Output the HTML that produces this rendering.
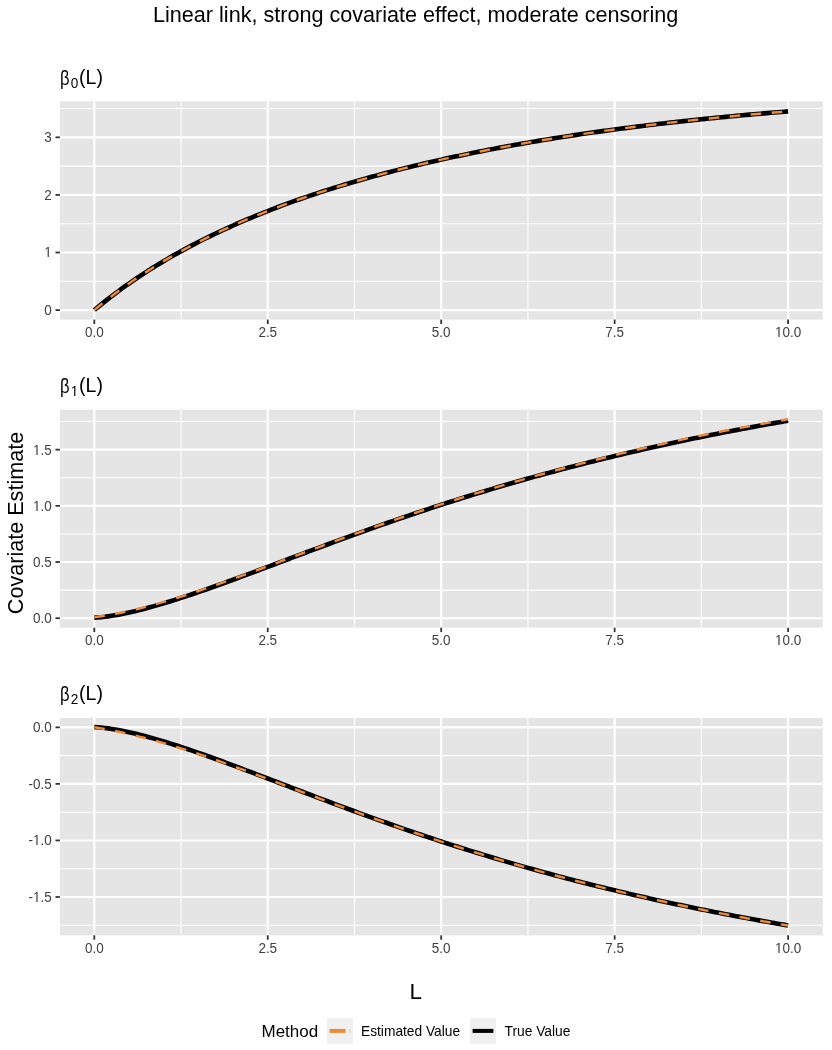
<!DOCTYPE html>
<html><head><meta charset="utf-8"><title>Linear link, strong covariate effect, moderate censoring</title>
<style>html,body{margin:0;padding:0;background:#fff;}svg{display:block;filter:blur(0.35px);}</style></head>
<body>
<svg width="832" height="1050" viewBox="0 0 832 1050" font-family="'Liberation Sans', Arial, Helvetica, sans-serif">
<rect width="832" height="1050" fill="#ffffff"/>
<text x="415.7" y="22.3" font-size="21.6" text-anchor="middle" fill="#000">Linear link, strong covariate effect, moderate censoring</text>
<text transform="translate(60.05,84.90) scale(0.82,1)" font-size="20.3" fill="#000">β</text>
<text transform="translate(70.7,88.00) scale(0.9,1)" font-size="15.1" fill="#000">0</text>
<text x="79.1" y="83.50" font-size="19.5" fill="#000">(L)</text>
<rect x="59.9" y="101.3" width="762.90" height="218.30" fill="#E5E5E5"/>
<line x1="59.9" x2="822.8" y1="281.31" y2="281.31" stroke="#fff" stroke-width="1.07"/>
<line x1="59.9" x2="822.8" y1="223.72" y2="223.72" stroke="#fff" stroke-width="1.07"/>
<line x1="59.9" x2="822.8" y1="166.12" y2="166.12" stroke="#fff" stroke-width="1.07"/>
<line x1="59.9" x2="822.8" y1="108.54" y2="108.54" stroke="#fff" stroke-width="1.07"/>
<line x1="181.03" x2="181.03" y1="101.3" y2="319.6" stroke="#fff" stroke-width="1.07"/>
<line x1="354.48" x2="354.48" y1="101.3" y2="319.6" stroke="#fff" stroke-width="1.07"/>
<line x1="527.92" x2="527.92" y1="101.3" y2="319.6" stroke="#fff" stroke-width="1.07"/>
<line x1="701.38" x2="701.38" y1="101.3" y2="319.6" stroke="#fff" stroke-width="1.07"/>
<line x1="59.9" x2="822.8" y1="310.10" y2="310.10" stroke="#fff" stroke-width="2.13"/>
<line x1="59.9" x2="822.8" y1="252.51" y2="252.51" stroke="#fff" stroke-width="2.13"/>
<line x1="59.9" x2="822.8" y1="194.92" y2="194.92" stroke="#fff" stroke-width="2.13"/>
<line x1="59.9" x2="822.8" y1="137.33" y2="137.33" stroke="#fff" stroke-width="2.13"/>
<line x1="94.30" x2="94.30" y1="101.3" y2="319.6" stroke="#fff" stroke-width="2.13"/>
<line x1="267.75" x2="267.75" y1="101.3" y2="319.6" stroke="#fff" stroke-width="2.13"/>
<line x1="441.20" x2="441.20" y1="101.3" y2="319.6" stroke="#fff" stroke-width="2.13"/>
<line x1="614.65" x2="614.65" y1="101.3" y2="319.6" stroke="#fff" stroke-width="2.13"/>
<line x1="788.10" x2="788.10" y1="101.3" y2="319.6" stroke="#fff" stroke-width="2.13"/>
<path d="M94.30,310.10 L97.77,307.21 L101.24,304.38 L104.71,301.60 L108.18,298.87 L111.64,296.20 L115.11,293.57 L118.58,290.99 L122.05,288.45 L125.52,285.96 L128.99,283.51 L132.46,281.11 L135.93,278.74 L139.40,276.42 L142.87,274.13 L146.34,271.88 L149.80,269.67 L153.27,267.49 L156.74,265.35 L160.21,263.24 L163.68,261.16 L167.15,259.12 L170.62,257.11 L174.09,255.12 L177.56,253.17 L181.03,251.25 L184.49,249.36 L187.96,247.49 L191.43,245.65 L194.90,243.84 L198.37,242.05 L201.84,240.29 L205.31,238.55 L208.78,236.84 L212.25,235.15 L215.72,233.49 L219.18,231.85 L222.65,230.23 L226.12,228.63 L229.59,227.05 L233.06,225.50 L236.53,223.96 L240.00,222.45 L243.47,220.96 L246.94,219.48 L250.41,218.03 L253.87,216.59 L257.34,215.17 L260.81,213.77 L264.28,212.38 L267.75,211.02 L271.22,209.67 L274.69,208.34 L278.16,207.02 L281.63,205.72 L285.10,204.44 L288.56,203.17 L292.03,201.92 L295.50,200.68 L298.97,199.46 L302.44,198.25 L305.91,197.06 L309.38,195.88 L312.85,194.71 L316.32,193.56 L319.79,192.42 L323.25,191.29 L326.72,190.18 L330.19,189.08 L333.66,187.99 L337.13,186.92 L340.60,185.86 L344.07,184.81 L347.54,183.77 L351.01,182.74 L354.48,181.72 L357.94,180.72 L361.41,179.73 L364.88,178.75 L368.35,177.77 L371.82,176.81 L375.29,175.86 L378.76,174.92 L382.23,173.99 L385.70,173.08 L389.17,172.17 L392.63,171.27 L396.10,170.38 L399.57,169.50 L403.04,168.63 L406.51,167.76 L409.98,166.91 L413.45,166.07 L416.92,165.23 L420.39,164.41 L423.86,163.59 L427.32,162.78 L430.79,161.98 L434.26,161.19 L437.73,160.41 L441.20,159.63 L444.67,158.87 L448.14,158.11 L451.61,157.36 L455.08,156.62 L458.55,155.88 L462.01,155.15 L465.48,154.43 L468.95,153.72 L472.42,153.01 L475.89,152.31 L479.36,151.62 L482.83,150.94 L486.30,150.26 L489.77,149.59 L493.24,148.93 L496.70,148.27 L500.17,147.62 L503.64,146.98 L507.11,146.34 L510.58,145.71 L514.05,145.09 L517.52,144.47 L520.99,143.86 L524.46,143.25 L527.92,142.65 L531.39,142.06 L534.86,141.47 L538.33,140.89 L541.80,140.31 L545.27,139.74 L548.74,139.18 L552.21,138.62 L555.68,138.07 L559.15,137.52 L562.62,136.98 L566.08,136.44 L569.55,135.91 L573.02,135.39 L576.49,134.87 L579.96,134.35 L583.43,133.84 L586.90,133.34 L590.37,132.84 L593.84,132.34 L597.30,131.85 L600.77,131.37 L604.24,130.89 L607.71,130.41 L611.18,129.94 L614.65,129.48 L618.12,129.02 L621.59,128.56 L625.06,128.11 L628.53,127.66 L632.00,127.22 L635.46,126.78 L638.93,126.35 L642.40,125.92 L645.87,125.49 L649.34,125.07 L652.81,124.66 L656.28,124.25 L659.75,123.84 L663.22,123.43 L666.68,123.03 L670.15,122.64 L673.62,122.25 L677.09,121.86 L680.56,121.48 L684.03,121.10 L687.50,120.72 L690.97,120.35 L694.44,119.98 L697.91,119.62 L701.38,119.26 L704.84,118.90 L708.31,118.55 L711.78,118.20 L715.25,117.85 L718.72,117.51 L722.19,117.17 L725.66,116.84 L729.13,116.51 L732.60,116.18 L736.07,115.86 L739.53,115.54 L743.00,115.22 L746.47,114.90 L749.94,114.59 L753.41,114.29 L756.88,113.98 L760.35,113.68 L763.82,113.38 L767.29,113.09 L770.76,112.80 L774.22,112.51 L777.69,112.23 L781.16,111.95 L784.63,111.67 L788.10,111.39" fill="none" stroke="#000" stroke-width="4.6" stroke-linejoin="round"/>
<path d="M94.30,310.10 L97.77,307.21 L101.24,304.38 L104.71,301.60 L108.18,298.87 L111.64,296.20 L115.11,293.57 L118.58,290.99 L122.05,288.45 L125.52,285.96 L128.99,283.51 L132.46,281.11 L135.93,278.74 L139.40,276.42 L142.87,274.13 L146.34,271.88 L149.80,269.67 L153.27,267.49 L156.74,265.35 L160.21,263.24 L163.68,261.16 L167.15,259.12 L170.62,257.11 L174.09,255.12 L177.56,253.17 L181.03,251.25 L184.49,249.36 L187.96,247.49 L191.43,245.65 L194.90,243.84 L198.37,242.05 L201.84,240.29 L205.31,238.55 L208.78,236.84 L212.25,235.15 L215.72,233.49 L219.18,231.85 L222.65,230.23 L226.12,228.63 L229.59,227.05 L233.06,225.50 L236.53,223.96 L240.00,222.45 L243.47,220.96 L246.94,219.48 L250.41,218.03 L253.87,216.59 L257.34,215.17 L260.81,213.77 L264.28,212.38 L267.75,211.02 L271.22,209.67 L274.69,208.34 L278.16,207.02 L281.63,205.72 L285.10,204.44 L288.56,203.17 L292.03,201.92 L295.50,200.68 L298.97,199.46 L302.44,198.25 L305.91,197.06 L309.38,195.88 L312.85,194.71 L316.32,193.56 L319.79,192.42 L323.25,191.29 L326.72,190.18 L330.19,189.08 L333.66,187.99 L337.13,186.92 L340.60,185.86 L344.07,184.81 L347.54,183.77 L351.01,182.74 L354.48,181.72 L357.94,180.72 L361.41,179.73 L364.88,178.75 L368.35,177.77 L371.82,176.81 L375.29,175.86 L378.76,174.92 L382.23,173.99 L385.70,173.08 L389.17,172.17 L392.63,171.27 L396.10,170.38 L399.57,169.50 L403.04,168.63 L406.51,167.76 L409.98,166.91 L413.45,166.07 L416.92,165.23 L420.39,164.41 L423.86,163.59 L427.32,162.78 L430.79,161.98 L434.26,161.19 L437.73,160.41 L441.20,159.63 L444.67,158.87 L448.14,158.11 L451.61,157.36 L455.08,156.62 L458.55,155.88 L462.01,155.15 L465.48,154.43 L468.95,153.72 L472.42,153.01 L475.89,152.31 L479.36,151.62 L482.83,150.94 L486.30,150.26 L489.77,149.59 L493.24,148.93 L496.70,148.27 L500.17,147.62 L503.64,146.98 L507.11,146.34 L510.58,145.71 L514.05,145.09 L517.52,144.47 L520.99,143.86 L524.46,143.25 L527.92,142.65 L531.39,142.06 L534.86,141.47 L538.33,140.89 L541.80,140.31 L545.27,139.74 L548.74,139.18 L552.21,138.62 L555.68,138.07 L559.15,137.52 L562.62,136.98 L566.08,136.44 L569.55,135.91 L573.02,135.39 L576.49,134.87 L579.96,134.35 L583.43,133.84 L586.90,133.34 L590.37,132.84 L593.84,132.34 L597.30,131.85 L600.77,131.37 L604.24,130.89 L607.71,130.41 L611.18,129.94 L614.65,129.48 L618.12,129.02 L621.59,128.56 L625.06,128.11 L628.53,127.66 L632.00,127.22 L635.46,126.78 L638.93,126.35 L642.40,125.92 L645.87,125.49 L649.34,125.07 L652.81,124.66 L656.28,124.25 L659.75,123.84 L663.22,123.43 L666.68,123.03 L670.15,122.64 L673.62,122.25 L677.09,121.86 L680.56,121.48 L684.03,121.10 L687.50,120.72 L690.97,120.35 L694.44,119.98 L697.91,119.62 L701.38,119.26 L704.84,118.90 L708.31,118.55 L711.78,118.20 L715.25,117.85 L718.72,117.51 L722.19,117.17 L725.66,116.84 L729.13,116.51 L732.60,116.18 L736.07,115.86 L739.53,115.54 L743.00,115.22 L746.47,114.90 L749.94,114.59 L753.41,114.29 L756.88,113.98 L760.35,113.68 L763.82,113.38 L767.29,113.09 L770.76,112.80 L774.22,112.51 L777.69,112.23 L781.16,111.95 L784.63,111.67 L788.10,111.39" fill="none" stroke="#EE8B3A" stroke-width="2.45" stroke-dasharray="10.6 10.45" stroke-linejoin="round"/>
<line x1="55.50" x2="59.9" y1="310.10" y2="310.10" stroke="#333333" stroke-width="1.8"/>
<text transform="translate(51.8,314.95) scale(0.95,1)" font-size="14.2" text-anchor="end" fill="#404040">0</text>
<line x1="55.50" x2="59.9" y1="252.51" y2="252.51" stroke="#333333" stroke-width="1.8"/>
<text transform="translate(51.8,257.36) scale(0.95,1)" font-size="14.2" text-anchor="end" fill="#404040">1</text>
<line x1="55.50" x2="59.9" y1="194.92" y2="194.92" stroke="#333333" stroke-width="1.8"/>
<text transform="translate(51.8,199.77) scale(0.95,1)" font-size="14.2" text-anchor="end" fill="#404040">2</text>
<line x1="55.50" x2="59.9" y1="137.33" y2="137.33" stroke="#333333" stroke-width="1.8"/>
<text transform="translate(51.8,142.18) scale(0.95,1)" font-size="14.2" text-anchor="end" fill="#404040">3</text>
<line x1="94.30" x2="94.30" y1="319.6" y2="324.00" stroke="#333333" stroke-width="1.8"/>
<text transform="translate(94.30,337.30) scale(0.95,1)" font-size="14.2" text-anchor="middle" fill="#404040">0.0</text>
<line x1="267.75" x2="267.75" y1="319.6" y2="324.00" stroke="#333333" stroke-width="1.8"/>
<text transform="translate(267.75,337.30) scale(0.95,1)" font-size="14.2" text-anchor="middle" fill="#404040">2.5</text>
<line x1="441.20" x2="441.20" y1="319.6" y2="324.00" stroke="#333333" stroke-width="1.8"/>
<text transform="translate(441.20,337.30) scale(0.95,1)" font-size="14.2" text-anchor="middle" fill="#404040">5.0</text>
<line x1="614.65" x2="614.65" y1="319.6" y2="324.00" stroke="#333333" stroke-width="1.8"/>
<text transform="translate(614.65,337.30) scale(0.95,1)" font-size="14.2" text-anchor="middle" fill="#404040">7.5</text>
<line x1="788.10" x2="788.10" y1="319.6" y2="324.00" stroke="#333333" stroke-width="1.8"/>
<text transform="translate(788.10,337.30) scale(0.95,1)" font-size="14.2" text-anchor="middle" fill="#404040">10.0</text>
<text transform="translate(60.05,393.10) scale(0.82,1)" font-size="20.3" fill="#000">β</text>
<text transform="translate(70.7,396.20) scale(0.9,1)" font-size="15.1" fill="#000">1</text>
<text x="79.1" y="391.70" font-size="19.5" fill="#000">(L)</text>
<rect x="59.9" y="409.7" width="762.90" height="218.00" fill="#E5E5E5"/>
<line x1="59.9" x2="822.8" y1="590.11" y2="590.11" stroke="#fff" stroke-width="1.07"/>
<line x1="59.9" x2="822.8" y1="533.93" y2="533.93" stroke="#fff" stroke-width="1.07"/>
<line x1="59.9" x2="822.8" y1="477.75" y2="477.75" stroke="#fff" stroke-width="1.07"/>
<line x1="59.9" x2="822.8" y1="421.57" y2="421.57" stroke="#fff" stroke-width="1.07"/>
<line x1="181.03" x2="181.03" y1="409.7" y2="627.7" stroke="#fff" stroke-width="1.07"/>
<line x1="354.48" x2="354.48" y1="409.7" y2="627.7" stroke="#fff" stroke-width="1.07"/>
<line x1="527.92" x2="527.92" y1="409.7" y2="627.7" stroke="#fff" stroke-width="1.07"/>
<line x1="701.38" x2="701.38" y1="409.7" y2="627.7" stroke="#fff" stroke-width="1.07"/>
<line x1="59.9" x2="822.8" y1="618.20" y2="618.20" stroke="#fff" stroke-width="2.13"/>
<line x1="59.9" x2="822.8" y1="562.02" y2="562.02" stroke="#fff" stroke-width="2.13"/>
<line x1="59.9" x2="822.8" y1="505.84" y2="505.84" stroke="#fff" stroke-width="2.13"/>
<line x1="59.9" x2="822.8" y1="449.66" y2="449.66" stroke="#fff" stroke-width="2.13"/>
<line x1="94.30" x2="94.30" y1="409.7" y2="627.7" stroke="#fff" stroke-width="2.13"/>
<line x1="267.75" x2="267.75" y1="409.7" y2="627.7" stroke="#fff" stroke-width="2.13"/>
<line x1="441.20" x2="441.20" y1="409.7" y2="627.7" stroke="#fff" stroke-width="2.13"/>
<line x1="614.65" x2="614.65" y1="409.7" y2="627.7" stroke="#fff" stroke-width="2.13"/>
<line x1="788.10" x2="788.10" y1="409.7" y2="627.7" stroke="#fff" stroke-width="2.13"/>
<path d="M94.30,617.67 L97.77,617.51 L101.24,617.21 L104.71,616.83 L108.18,616.37 L111.64,615.85 L115.11,615.27 L118.58,614.65 L122.05,613.98 L125.52,613.26 L128.99,612.51 L132.46,611.72 L135.93,610.90 L139.40,610.05 L142.87,609.17 L146.34,608.26 L149.80,607.32 L153.27,606.36 L156.74,605.37 L160.21,604.37 L163.68,603.34 L167.15,602.29 L170.62,601.22 L174.09,600.13 L177.56,599.03 L181.03,597.91 L184.49,596.78 L187.96,595.63 L191.43,594.47 L194.90,593.30 L198.37,592.11 L201.84,590.92 L205.31,589.71 L208.78,588.49 L212.25,587.27 L215.72,586.03 L219.18,584.79 L222.65,583.54 L226.12,582.28 L229.59,581.02 L233.06,579.75 L236.53,578.48 L240.00,577.20 L243.47,575.91 L246.94,574.63 L250.41,573.34 L253.87,572.04 L257.34,570.75 L260.81,569.45 L264.28,568.15 L267.75,566.85 L271.22,565.54 L274.69,564.24 L278.16,562.93 L281.63,561.63 L285.10,560.32 L288.56,559.02 L292.03,557.71 L295.50,556.41 L298.97,555.11 L302.44,553.81 L305.91,552.51 L309.38,551.21 L312.85,549.91 L316.32,548.62 L319.79,547.33 L323.25,546.04 L326.72,544.76 L330.19,543.48 L333.66,542.20 L337.13,540.92 L340.60,539.65 L344.07,538.38 L347.54,537.11 L351.01,535.85 L354.48,534.60 L357.94,533.34 L361.41,532.10 L364.88,530.85 L368.35,529.61 L371.82,528.38 L375.29,527.15 L378.76,525.92 L382.23,524.70 L385.70,523.49 L389.17,522.28 L392.63,521.07 L396.10,519.87 L399.57,518.68 L403.04,517.49 L406.51,516.31 L409.98,515.13 L413.45,513.96 L416.92,512.79 L420.39,511.63 L423.86,510.47 L427.32,509.32 L430.79,508.18 L434.26,507.04 L437.73,505.91 L441.20,504.78 L444.67,503.66 L448.14,502.55 L451.61,501.44 L455.08,500.34 L458.55,499.24 L462.01,498.15 L465.48,497.06 L468.95,495.98 L472.42,494.91 L475.89,493.85 L479.36,492.79 L482.83,491.73 L486.30,490.68 L489.77,489.64 L493.24,488.60 L496.70,487.57 L500.17,486.55 L503.64,485.53 L507.11,484.52 L510.58,483.51 L514.05,482.51 L517.52,481.52 L520.99,480.53 L524.46,479.55 L527.92,478.58 L531.39,477.61 L534.86,476.64 L538.33,475.68 L541.80,474.73 L545.27,473.79 L548.74,472.85 L552.21,471.91 L555.68,470.98 L559.15,470.06 L562.62,469.14 L566.08,468.23 L569.55,467.33 L573.02,466.43 L576.49,465.53 L579.96,464.65 L583.43,463.76 L586.90,462.89 L590.37,462.02 L593.84,461.15 L597.30,460.29 L600.77,459.44 L604.24,458.59 L607.71,457.74 L611.18,456.90 L614.65,456.07 L618.12,455.24 L621.59,454.42 L625.06,453.61 L628.53,452.80 L632.00,451.99 L635.46,451.19 L638.93,450.39 L642.40,449.60 L645.87,448.82 L649.34,448.04 L652.81,447.26 L656.28,446.49 L659.75,445.73 L663.22,444.97 L666.68,444.21 L670.15,443.46 L673.62,442.72 L677.09,441.98 L680.56,441.24 L684.03,440.51 L687.50,439.79 L690.97,439.07 L694.44,438.35 L697.91,437.64 L701.38,436.93 L704.84,436.23 L708.31,435.53 L711.78,434.84 L715.25,434.15 L718.72,433.47 L722.19,432.79 L725.66,432.11 L729.13,431.44 L732.60,430.78 L736.07,430.12 L739.53,429.46 L743.00,428.81 L746.47,428.16 L749.94,427.51 L753.41,426.87 L756.88,426.24 L760.35,425.60 L763.82,424.98 L767.29,424.35 L770.76,423.73 L774.22,423.12 L777.69,422.51 L781.16,421.90 L784.63,421.29 L788.10,420.69" fill="none" stroke="#000" stroke-width="4.6" stroke-linejoin="round"/>
<path d="M94.30,617.22 L97.77,616.82 L101.24,616.33 L104.71,615.78 L108.18,615.18 L111.64,614.55 L115.11,613.89 L118.58,613.20 L122.05,612.47 L125.52,611.73 L128.99,610.95 L132.46,610.15 L135.93,609.32 L139.40,608.48 L142.87,607.60 L146.34,606.71 L149.80,605.79 L153.27,604.85 L156.74,603.90 L160.21,602.92 L163.68,601.92 L167.15,600.90 L170.62,599.87 L174.09,598.82 L177.56,597.75 L181.03,596.67 L184.49,595.57 L187.96,594.45 L191.43,593.33 L194.90,592.19 L198.37,591.03 L201.84,589.87 L205.31,588.69 L208.78,587.50 L212.25,586.30 L215.72,585.10 L219.18,583.88 L222.65,582.65 L226.12,581.42 L229.59,580.18 L233.06,578.93 L236.53,577.68 L240.00,576.42 L243.47,575.16 L246.94,573.89 L250.41,572.61 L253.87,571.34 L257.34,570.06 L260.81,568.77 L264.28,567.49 L267.75,566.20 L271.22,564.90 L274.69,563.61 L278.16,562.32 L281.63,561.02 L285.10,559.73 L288.56,558.43 L292.03,557.14 L295.50,555.84 L298.97,554.55 L302.44,553.25 L305.91,551.96 L309.38,550.67 L312.85,549.38 L316.32,548.09 L319.79,546.81 L323.25,545.52 L326.72,544.24 L330.19,542.96 L333.66,541.69 L337.13,540.42 L340.60,539.15 L344.07,537.88 L347.54,536.62 L351.01,535.36 L354.48,534.11 L357.94,532.86 L361.41,531.61 L364.88,530.37 L368.35,529.13 L371.82,527.90 L375.29,526.67 L378.76,525.45 L382.23,524.23 L385.70,523.02 L389.17,521.81 L392.63,520.60 L396.10,519.41 L399.57,518.21 L403.04,517.02 L406.51,515.84 L409.98,514.67 L413.45,513.49 L416.92,512.33 L420.39,511.17 L423.86,510.01 L427.32,508.86 L430.79,507.72 L434.26,506.58 L437.73,505.45 L441.20,504.32 L444.67,503.20 L448.14,502.09 L451.61,500.98 L455.08,499.88 L458.55,498.78 L462.01,497.69 L465.48,496.61 L468.95,495.53 L472.42,494.46 L475.89,493.39 L479.36,492.33 L482.83,491.28 L486.30,490.23 L489.77,489.19 L493.24,488.15 L496.70,487.12 L500.17,486.10 L503.64,485.08 L507.11,484.07 L510.58,483.06 L514.05,482.06 L517.52,481.07 L520.99,480.07 L524.46,479.09 L527.92,478.10 L531.39,477.13 L534.86,476.15 L538.33,475.18 L541.80,474.22 L545.27,473.26 L548.74,472.30 L552.21,471.35 L555.68,470.41 L559.15,469.47 L562.62,468.53 L566.08,467.60 L569.55,466.68 L573.02,465.76 L576.49,464.84 L579.96,463.93 L583.43,463.03 L586.90,462.13 L590.37,461.23 L593.84,460.34 L597.30,459.46 L600.77,458.58 L604.24,457.70 L607.71,456.83 L611.18,455.97 L614.65,455.11 L618.12,454.26 L621.59,453.41 L625.06,452.57 L628.53,451.74 L632.00,450.90 L635.46,450.08 L638.93,449.26 L642.40,448.45 L645.87,447.64 L649.34,446.83 L652.81,446.04 L656.28,445.25 L659.75,444.46 L663.22,443.68 L666.68,442.91 L670.15,442.14 L673.62,441.38 L677.09,440.62 L680.56,439.87 L684.03,439.12 L687.50,438.38 L690.97,437.65 L694.44,436.92 L697.91,436.20 L701.38,435.49 L704.84,434.78 L708.31,434.07 L711.78,433.38 L715.25,432.69 L718.72,432.00 L722.19,431.32 L725.66,430.65 L729.13,429.98 L732.60,429.31 L736.07,428.65 L739.53,427.99 L743.00,427.34 L746.47,426.69 L749.94,426.05 L753.41,425.41 L756.88,424.77 L760.35,424.14 L763.82,423.51 L767.29,422.89 L770.76,422.27 L774.22,421.65 L777.69,421.04 L781.16,420.43 L784.63,419.83 L788.10,419.23" fill="none" stroke="#EE8B3A" stroke-width="2.45" stroke-dasharray="10.6 10.45" stroke-linejoin="round"/>
<line x1="55.50" x2="59.9" y1="618.20" y2="618.20" stroke="#333333" stroke-width="1.8"/>
<text transform="translate(51.8,623.05) scale(0.95,1)" font-size="14.2" text-anchor="end" fill="#404040">0.0</text>
<line x1="55.50" x2="59.9" y1="562.02" y2="562.02" stroke="#333333" stroke-width="1.8"/>
<text transform="translate(51.8,566.87) scale(0.95,1)" font-size="14.2" text-anchor="end" fill="#404040">0.5</text>
<line x1="55.50" x2="59.9" y1="505.84" y2="505.84" stroke="#333333" stroke-width="1.8"/>
<text transform="translate(51.8,510.69) scale(0.95,1)" font-size="14.2" text-anchor="end" fill="#404040">1.0</text>
<line x1="55.50" x2="59.9" y1="449.66" y2="449.66" stroke="#333333" stroke-width="1.8"/>
<text transform="translate(51.8,454.51) scale(0.95,1)" font-size="14.2" text-anchor="end" fill="#404040">1.5</text>
<line x1="94.30" x2="94.30" y1="627.7" y2="632.10" stroke="#333333" stroke-width="1.8"/>
<text transform="translate(94.30,645.40) scale(0.95,1)" font-size="14.2" text-anchor="middle" fill="#404040">0.0</text>
<line x1="267.75" x2="267.75" y1="627.7" y2="632.10" stroke="#333333" stroke-width="1.8"/>
<text transform="translate(267.75,645.40) scale(0.95,1)" font-size="14.2" text-anchor="middle" fill="#404040">2.5</text>
<line x1="441.20" x2="441.20" y1="627.7" y2="632.10" stroke="#333333" stroke-width="1.8"/>
<text transform="translate(441.20,645.40) scale(0.95,1)" font-size="14.2" text-anchor="middle" fill="#404040">5.0</text>
<line x1="614.65" x2="614.65" y1="627.7" y2="632.10" stroke="#333333" stroke-width="1.8"/>
<text transform="translate(614.65,645.40) scale(0.95,1)" font-size="14.2" text-anchor="middle" fill="#404040">7.5</text>
<line x1="788.10" x2="788.10" y1="627.7" y2="632.10" stroke="#333333" stroke-width="1.8"/>
<text transform="translate(788.10,645.40) scale(0.95,1)" font-size="14.2" text-anchor="middle" fill="#404040">10.0</text>
<text transform="translate(60.05,701.30) scale(0.82,1)" font-size="20.3" fill="#000">β</text>
<text transform="translate(70.7,704.40) scale(0.9,1)" font-size="15.1" fill="#000">2</text>
<text x="79.1" y="699.90" font-size="19.5" fill="#000">(L)</text>
<rect x="59.9" y="718.0" width="762.90" height="217.30" fill="#E5E5E5"/>
<line x1="59.9" x2="822.8" y1="755.62" y2="755.62" stroke="#fff" stroke-width="1.07"/>
<line x1="59.9" x2="822.8" y1="812.16" y2="812.16" stroke="#fff" stroke-width="1.07"/>
<line x1="59.9" x2="822.8" y1="868.72" y2="868.72" stroke="#fff" stroke-width="1.07"/>
<line x1="59.9" x2="822.8" y1="925.26" y2="925.26" stroke="#fff" stroke-width="1.07"/>
<line x1="181.03" x2="181.03" y1="718.0" y2="935.3" stroke="#fff" stroke-width="1.07"/>
<line x1="354.48" x2="354.48" y1="718.0" y2="935.3" stroke="#fff" stroke-width="1.07"/>
<line x1="527.92" x2="527.92" y1="718.0" y2="935.3" stroke="#fff" stroke-width="1.07"/>
<line x1="701.38" x2="701.38" y1="718.0" y2="935.3" stroke="#fff" stroke-width="1.07"/>
<line x1="59.9" x2="822.8" y1="727.34" y2="727.34" stroke="#fff" stroke-width="2.13"/>
<line x1="59.9" x2="822.8" y1="783.89" y2="783.89" stroke="#fff" stroke-width="2.13"/>
<line x1="59.9" x2="822.8" y1="840.44" y2="840.44" stroke="#fff" stroke-width="2.13"/>
<line x1="59.9" x2="822.8" y1="896.99" y2="896.99" stroke="#fff" stroke-width="2.13"/>
<line x1="94.30" x2="94.30" y1="718.0" y2="935.3" stroke="#fff" stroke-width="2.13"/>
<line x1="267.75" x2="267.75" y1="718.0" y2="935.3" stroke="#fff" stroke-width="2.13"/>
<line x1="441.20" x2="441.20" y1="718.0" y2="935.3" stroke="#fff" stroke-width="2.13"/>
<line x1="614.65" x2="614.65" y1="718.0" y2="935.3" stroke="#fff" stroke-width="2.13"/>
<line x1="788.10" x2="788.10" y1="718.0" y2="935.3" stroke="#fff" stroke-width="2.13"/>
<path d="M94.30,727.12 L97.77,727.28 L101.24,727.56 L104.71,727.94 L108.18,728.39 L111.64,728.91 L115.11,729.48 L118.58,730.10 L122.05,730.76 L125.52,731.47 L128.99,732.22 L132.46,733.01 L135.93,733.83 L139.40,734.69 L142.87,735.58 L146.34,736.49 L149.80,737.43 L153.27,738.40 L156.74,739.40 L160.21,740.41 L163.68,741.45 L167.15,742.51 L170.62,743.59 L174.09,744.69 L177.56,745.80 L181.03,746.94 L184.49,748.08 L187.96,749.25 L191.43,750.42 L194.90,751.62 L198.37,752.82 L201.84,754.03 L205.31,755.26 L208.78,756.49 L212.25,757.74 L215.72,758.99 L219.18,760.25 L222.65,761.52 L226.12,762.80 L229.59,764.09 L233.06,765.38 L236.53,766.67 L240.00,767.97 L243.47,769.28 L246.94,770.59 L250.41,771.90 L253.87,773.21 L257.34,774.53 L260.81,775.85 L264.28,777.18 L267.75,778.50 L271.22,779.83 L274.69,781.15 L278.16,782.48 L281.63,783.81 L285.10,785.14 L288.56,786.46 L292.03,787.79 L295.50,789.11 L298.97,790.44 L302.44,791.76 L305.91,793.08 L309.38,794.40 L312.85,795.72 L316.32,797.03 L319.79,798.34 L323.25,799.65 L326.72,800.96 L330.19,802.26 L333.66,803.56 L337.13,804.86 L340.60,806.15 L344.07,807.44 L347.54,808.72 L351.01,810.00 L354.48,811.28 L357.94,812.55 L361.41,813.81 L364.88,815.08 L368.35,816.33 L371.82,817.58 L375.29,818.83 L378.76,820.07 L382.23,821.31 L385.70,822.54 L389.17,823.77 L392.63,824.99 L396.10,826.20 L399.57,827.41 L403.04,828.61 L406.51,829.81 L409.98,831.00 L413.45,832.19 L416.92,833.37 L420.39,834.54 L423.86,835.71 L427.32,836.87 L430.79,838.03 L434.26,839.18 L437.73,840.32 L441.20,841.46 L444.67,842.59 L448.14,843.72 L451.61,844.83 L455.08,845.95 L458.55,847.05 L462.01,848.15 L465.48,849.25 L468.95,850.33 L472.42,851.41 L475.89,852.49 L479.36,853.56 L482.83,854.62 L486.30,855.67 L489.77,856.72 L493.24,857.76 L496.70,858.80 L500.17,859.83 L503.64,860.85 L507.11,861.87 L510.58,862.88 L514.05,863.89 L517.52,864.88 L520.99,865.88 L524.46,866.86 L527.92,867.84 L531.39,868.81 L534.86,869.78 L538.33,870.74 L541.80,871.70 L545.27,872.65 L548.74,873.59 L552.21,874.52 L555.68,875.45 L559.15,876.38 L562.62,877.30 L566.08,878.21 L569.55,879.11 L573.02,880.01 L576.49,880.91 L579.96,881.80 L583.43,882.68 L586.90,883.56 L590.37,884.43 L593.84,885.29 L597.30,886.15 L600.77,887.00 L604.24,887.85 L607.71,888.69 L611.18,889.53 L614.65,890.36 L618.12,891.19 L621.59,892.00 L625.06,892.82 L628.53,893.63 L632.00,894.43 L635.46,895.23 L638.93,896.02 L642.40,896.81 L645.87,897.59 L649.34,898.37 L652.81,899.14 L656.28,899.90 L659.75,900.66 L663.22,901.42 L666.68,902.17 L670.15,902.91 L673.62,903.65 L677.09,904.39 L680.56,905.12 L684.03,905.85 L687.50,906.57 L690.97,907.28 L694.44,907.99 L697.91,908.70 L701.38,909.40 L704.84,910.10 L708.31,910.79 L711.78,911.47 L715.25,912.16 L718.72,912.83 L722.19,913.51 L725.66,914.17 L729.13,914.84 L732.60,915.50 L736.07,916.15 L739.53,916.80 L743.00,917.45 L746.47,918.09 L749.94,918.73 L753.41,919.36 L756.88,919.99 L760.35,920.62 L763.82,921.24 L767.29,921.85 L770.76,922.46 L774.22,923.07 L777.69,923.68 L781.16,924.28 L784.63,924.87 L788.10,925.46" fill="none" stroke="#000" stroke-width="4.6" stroke-linejoin="round"/>
<path d="M94.30,727.24 L97.77,727.77 L101.24,728.37 L104.71,729.01 L108.18,729.68 L111.64,730.37 L115.11,731.08 L118.58,731.81 L122.05,732.56 L125.52,733.33 L128.99,734.12 L132.46,734.93 L135.93,735.76 L139.40,736.61 L142.87,737.48 L146.34,738.37 L149.80,739.28 L153.27,740.21 L156.74,741.16 L160.21,742.13 L163.68,743.12 L167.15,744.12 L170.62,745.15 L174.09,746.19 L177.56,747.25 L181.03,748.33 L184.49,749.42 L187.96,750.53 L191.43,751.65 L194.90,752.79 L198.37,753.94 L201.84,755.11 L205.31,756.28 L208.78,757.47 L212.25,758.67 L215.72,759.88 L219.18,761.10 L222.65,762.33 L226.12,763.57 L229.59,764.82 L233.06,766.07 L236.53,767.34 L240.00,768.61 L243.47,769.88 L246.94,771.16 L250.41,772.45 L253.87,773.74 L257.34,775.03 L260.81,776.33 L264.28,777.63 L267.75,778.93 L271.22,780.24 L274.69,781.55 L278.16,782.86 L281.63,784.17 L285.10,785.48 L288.56,786.79 L292.03,788.11 L295.50,789.42 L298.97,790.73 L302.44,792.04 L305.91,793.35 L309.38,794.66 L312.85,795.97 L316.32,797.27 L319.79,798.58 L323.25,799.88 L326.72,801.18 L330.19,802.47 L333.66,803.76 L337.13,805.05 L340.60,806.34 L344.07,807.62 L347.54,808.90 L351.01,810.18 L354.48,811.45 L357.94,812.72 L361.41,813.98 L364.88,815.24 L368.35,816.49 L371.82,817.74 L375.29,818.98 L378.76,820.22 L382.23,821.46 L385.70,822.68 L389.17,823.91 L392.63,825.13 L396.10,826.34 L399.57,827.55 L403.04,828.75 L406.51,829.94 L409.98,831.14 L413.45,832.32 L416.92,833.50 L420.39,834.67 L423.86,835.84 L427.32,837.00 L430.79,838.15 L434.26,839.30 L437.73,840.45 L441.20,841.58 L444.67,842.71 L448.14,843.84 L451.61,844.96 L455.08,846.07 L458.55,847.17 L462.01,848.27 L465.48,849.36 L468.95,850.45 L472.42,851.53 L475.89,852.61 L479.36,853.67 L482.83,854.73 L486.30,855.79 L489.77,856.84 L493.24,857.88 L496.70,858.92 L500.17,859.95 L503.64,860.97 L507.11,861.99 L510.58,863.00 L514.05,864.00 L517.52,865.00 L520.99,865.99 L524.46,866.98 L527.92,867.96 L531.39,868.93 L534.86,869.90 L538.33,870.86 L541.80,871.81 L545.27,872.76 L548.74,873.70 L552.21,874.64 L555.68,875.57 L559.15,876.49 L562.62,877.41 L566.08,878.32 L569.55,879.23 L573.02,880.13 L576.49,881.02 L579.96,881.91 L583.43,882.79 L586.90,883.67 L590.37,884.54 L593.84,885.40 L597.30,886.26 L600.77,887.12 L604.24,887.96 L607.71,888.81 L611.18,889.64 L614.65,890.47 L618.12,891.30 L621.59,892.12 L625.06,892.93 L628.53,893.74 L632.00,894.54 L635.46,895.34 L638.93,896.13 L642.40,896.92 L645.87,897.70 L649.34,898.48 L652.81,899.25 L656.28,900.02 L659.75,900.78 L663.22,901.53 L666.68,902.28 L670.15,903.03 L673.62,903.77 L677.09,904.50 L680.56,905.23 L684.03,905.96 L687.50,906.68 L690.97,907.39 L694.44,908.11 L697.91,908.81 L701.38,909.51 L704.84,910.21 L708.31,910.90 L711.78,911.59 L715.25,912.27 L718.72,912.95 L722.19,913.62 L725.66,914.29 L729.13,914.95 L732.60,915.61 L736.07,916.27 L739.53,916.92 L743.00,917.56 L746.47,918.20 L749.94,918.84 L753.41,919.48 L756.88,920.10 L760.35,920.73 L763.82,921.35 L767.29,921.97 L770.76,922.58 L774.22,923.19 L777.69,923.79 L781.16,924.39 L784.63,924.99 L788.10,925.58" fill="none" stroke="#EE8B3A" stroke-width="2.45" stroke-dasharray="10.6 10.45" stroke-linejoin="round"/>
<line x1="55.50" x2="59.9" y1="727.34" y2="727.34" stroke="#333333" stroke-width="1.8"/>
<text transform="translate(51.8,732.19) scale(0.95,1)" font-size="14.2" text-anchor="end" fill="#404040">0.0</text>
<line x1="55.50" x2="59.9" y1="783.89" y2="783.89" stroke="#333333" stroke-width="1.8"/>
<text transform="translate(51.8,788.74) scale(0.95,1)" font-size="14.2" text-anchor="end" fill="#404040">-0.5</text>
<line x1="55.50" x2="59.9" y1="840.44" y2="840.44" stroke="#333333" stroke-width="1.8"/>
<text transform="translate(51.8,845.29) scale(0.95,1)" font-size="14.2" text-anchor="end" fill="#404040">-1.0</text>
<line x1="55.50" x2="59.9" y1="896.99" y2="896.99" stroke="#333333" stroke-width="1.8"/>
<text transform="translate(51.8,901.84) scale(0.95,1)" font-size="14.2" text-anchor="end" fill="#404040">-1.5</text>
<line x1="94.30" x2="94.30" y1="935.3" y2="939.70" stroke="#333333" stroke-width="1.8"/>
<text transform="translate(94.30,953.00) scale(0.95,1)" font-size="14.2" text-anchor="middle" fill="#404040">0.0</text>
<line x1="267.75" x2="267.75" y1="935.3" y2="939.70" stroke="#333333" stroke-width="1.8"/>
<text transform="translate(267.75,953.00) scale(0.95,1)" font-size="14.2" text-anchor="middle" fill="#404040">2.5</text>
<line x1="441.20" x2="441.20" y1="935.3" y2="939.70" stroke="#333333" stroke-width="1.8"/>
<text transform="translate(441.20,953.00) scale(0.95,1)" font-size="14.2" text-anchor="middle" fill="#404040">5.0</text>
<line x1="614.65" x2="614.65" y1="935.3" y2="939.70" stroke="#333333" stroke-width="1.8"/>
<text transform="translate(614.65,953.00) scale(0.95,1)" font-size="14.2" text-anchor="middle" fill="#404040">7.5</text>
<line x1="788.10" x2="788.10" y1="935.3" y2="939.70" stroke="#333333" stroke-width="1.8"/>
<text transform="translate(788.10,953.00) scale(0.95,1)" font-size="14.2" text-anchor="middle" fill="#404040">10.0</text>
<text transform="translate(23.1,523) rotate(-90)" font-size="21.6" text-anchor="middle" fill="#000">Covariate Estimate</text>
<text x="415.7" y="999" font-size="22.4" text-anchor="middle" fill="#000">L</text>
<text x="261.5" y="1037" font-size="17" fill="#000">Method</text>
<rect x="327" y="1018" width="26" height="26" fill="#F0F0F0"/>
<line x1="329.6" x2="345.6" y1="1030.9" y2="1030.9" stroke="#EE8B3A" stroke-width="4"/>
<line x1="349.7" x2="350.4" y1="1030.9" y2="1030.9" stroke="#EE8B3A" stroke-width="4" stroke-opacity="0.6"/>
<text x="361" y="1036.2" font-size="13.75" fill="#000">Estimated Value</text>
<rect x="470" y="1018" width="26" height="26" fill="#F0F0F0"/>
<line x1="472.6" x2="493.4" y1="1030.9" y2="1030.9" stroke="#000" stroke-width="4"/>
<text x="504.5" y="1036.2" font-size="13.8" fill="#000">True Value</text>
<rect x="45" y="256" width="1" height="1" fill="#fff"/>
<rect x="46" y="256" width="1" height="1" fill="#fff"/>
<rect x="47" y="256" width="1" height="1" fill="#fff" fill-opacity="0.613"/>
<rect x="48" y="256" width="1" height="1" fill="#fff" fill-opacity="0.157"/>
<rect x="49" y="256" width="1" height="1" fill="#fff"/>
<rect x="50" y="256" width="1" height="1" fill="#fff"/>
<rect x="51" y="256" width="1" height="1" fill="#fff"/>
<rect x="776" y="336" width="1" height="1" fill="#fff"/>
<rect x="777" y="336" width="1" height="1" fill="#fff"/>
<rect x="778" y="336" width="1" height="1" fill="#fff" fill-opacity="0.361"/>
<rect x="779" y="336" width="1" height="1" fill="#fff" fill-opacity="0.403"/>
<rect x="780" y="336" width="1" height="1" fill="#fff"/>
<rect x="781" y="336" width="1" height="1" fill="#fff"/>
<rect x="71" y="395" width="1" height="1" fill="#fff"/>
<rect x="72" y="395" width="1" height="1" fill="#fff"/>
<rect x="73" y="395" width="1" height="1" fill="#fff"/>
<rect x="74" y="395" width="1" height="1" fill="#fff" fill-opacity="0.188"/>
<rect x="75" y="395" width="1" height="1" fill="#fff" fill-opacity="0.639"/>
<rect x="76" y="395" width="1" height="1" fill="#fff"/>
<rect x="77" y="395" width="1" height="1" fill="#fff"/>
<rect x="34" y="510" width="1" height="1" fill="#fff"/>
<rect x="35" y="510" width="1" height="1" fill="#fff"/>
<rect x="36" y="510" width="1" height="1" fill="#fff" fill-opacity="0.361"/>
<rect x="37" y="510" width="1" height="1" fill="#fff" fill-opacity="0.403"/>
<rect x="38" y="510" width="1" height="1" fill="#fff"/>
<rect x="39" y="510" width="1" height="1" fill="#fff"/>
<rect x="34" y="454" width="1" height="1" fill="#fff"/>
<rect x="35" y="454" width="1" height="1" fill="#fff"/>
<rect x="36" y="454" width="1" height="1" fill="#fff" fill-opacity="0.361"/>
<rect x="37" y="454" width="1" height="1" fill="#fff" fill-opacity="0.403"/>
<rect x="38" y="454" width="1" height="1" fill="#fff"/>
<rect x="39" y="454" width="1" height="1" fill="#fff"/>
<rect x="776" y="644" width="1" height="1" fill="#fff"/>
<rect x="777" y="644" width="1" height="1" fill="#fff"/>
<rect x="778" y="644" width="1" height="1" fill="#fff" fill-opacity="0.361"/>
<rect x="779" y="644" width="1" height="1" fill="#fff" fill-opacity="0.403"/>
<rect x="780" y="644" width="1" height="1" fill="#fff"/>
<rect x="781" y="644" width="1" height="1" fill="#fff"/>
<rect x="34" y="844" width="1" height="1" fill="#fff"/>
<rect x="35" y="844" width="1" height="1" fill="#fff"/>
<rect x="36" y="844" width="1" height="1" fill="#fff" fill-opacity="0.361"/>
<rect x="37" y="844" width="1" height="1" fill="#fff" fill-opacity="0.403"/>
<rect x="38" y="844" width="1" height="1" fill="#fff"/>
<rect x="39" y="844" width="1" height="1" fill="#fff"/>
<rect x="34" y="901" width="1" height="1" fill="#fff"/>
<rect x="35" y="901" width="1" height="1" fill="#fff"/>
<rect x="36" y="901" width="1" height="1" fill="#fff" fill-opacity="0.361"/>
<rect x="37" y="901" width="1" height="1" fill="#fff" fill-opacity="0.403"/>
<rect x="38" y="901" width="1" height="1" fill="#fff"/>
<rect x="39" y="901" width="1" height="1" fill="#fff"/>
<rect x="776" y="952" width="1" height="1" fill="#fff"/>
<rect x="777" y="952" width="1" height="1" fill="#fff"/>
<rect x="778" y="952" width="1" height="1" fill="#fff" fill-opacity="0.361"/>
<rect x="779" y="952" width="1" height="1" fill="#fff" fill-opacity="0.403"/>
<rect x="780" y="952" width="1" height="1" fill="#fff"/>
<rect x="781" y="952" width="1" height="1" fill="#fff"/>
</svg>
</body></html>
